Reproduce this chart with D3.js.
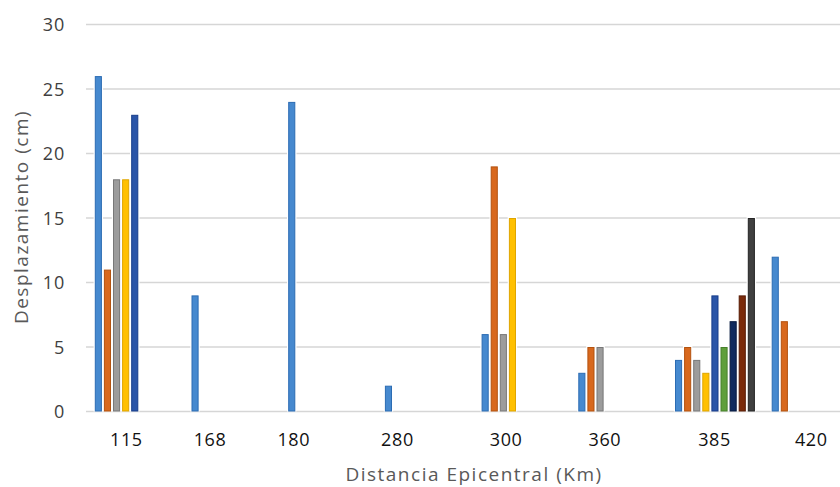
<!DOCTYPE html>
<html>
<head>
<meta charset="utf-8">
<script src="https://cdn.jsdelivr.net/npm/d3@7"></script>
<style>
  html, body { margin: 0; padding: 0; background: #fff; }
  svg { display: block; font-family: "Open Sans", "DejaVu Sans", sans-serif; }
</style>
</head>
<body>
<svg id="chart" width="840" height="487"></svg>
<script>
// Distancia epicentral (km) por estación
const categories = ["115", "168", "180", "280", "300", "360", "385", "420"];

// Desplazamiento (cm) de cada serie en cada distancia (null = sin dato)
const serie1 = [26, 9, 24, 2, 6, 3, 4, 12];
const serie2 = [11, null, null, null, 19, 5, 5, 7];
const serie3 = [18, null, null, null, 6, 5, 4, null];
const serie4 = [18, null, null, null, 15, null, 3, null];
const serie5 = [23, null, null, null, null, null, 9, null];
const serie6 = [null, null, null, null, null, null, 5, null];
const serie7 = [null, null, null, null, null, null, 7, null];
const serie8 = [null, null, null, null, null, null, 9, null];
const serie9 = [null, null, null, null, null, null, 15, null];

const yTicks = [0, 5, 10, 15, 20, 25, 30];

const series = [serie1, serie2, serie3, serie4, serie5, serie6, serie7, serie8, serie9];
const fills   = ["#4689cf", "#d8681d", "#9c9c9c", "#ffc000", "#2a55a8", "#5f9f3b", "#0f2a5e", "#7a2a0a", "#404040"];
const borders = ["#2c6cb3", "#b3520f", "#787878", "#dfa500", "#173d8a", "#47802c", "#06193f", "#571c05", "#252525"];

// Small horizontal nudges applied to the category labels
const labelNudge = [-8, -21, -34, -27, -15, -13, 0, 0];

const svg = d3.select("#chart");
const left = 86, bandW = 96.7;
const y = d3.scaleLinear().domain([0, 30]).range([411.5, 24.5]);
const x = d3.scaleBand().domain(categories).range([left, left + bandW * categories.length]).paddingInner(0).paddingOuter(0);
const xs = d3.scaleBand().domain(d3.range(series.length)).range([7.8, 7.8 + 9.1 * series.length]).padding(0);

// Gridlines
svg.append("g")
  .selectAll("line")
  .data(yTicks)
  .join("line")
  .attr("x1", left).attr("x2", 840)
  .attr("y1", d => y(d)).attr("y2", d => y(d))
  .attr("stroke", "#d6d6d6").attr("stroke-width", 1.5);

// Y tick labels
svg.append("g")
  .selectAll("text")
  .data(yTicks)
  .join("text")
  .attr("x", 65).attr("y", d => y(d) + 6.5)
  .attr("text-anchor", "end")
  .attr("font-size", 18)
  .attr("letter-spacing", 0.8)
  .attr("fill", "#404040")
  .text(d => d);

// Bars
const bars = [];
series.forEach((vals, si) => {
  vals.forEach((v, ci) => {
    if (v !== null) bars.push({ cat: categories[ci], s: si, v });
  });
});

const barW = 7.1;
const g = svg.append("g");
g.selectAll("rect.halo")
  .data(bars)
  .join("rect")
  .attr("class", "halo")
  .attr("x", d => x(d.cat) + xs(d.s) + (xs.bandwidth() - barW) / 2 - 1.2)
  .attr("y", d => y(d.v) - 1.2)
  .attr("width", barW + 2.4)
  .attr("height", d => y(0) - y(d.v) + 1.2)
  .attr("fill", "#fff");
g.selectAll("rect.bar")
  .data(bars)
  .join("rect")
  .attr("class", "bar")
  .attr("x", d => x(d.cat) + xs(d.s) + (xs.bandwidth() - barW) / 2 + 0.5)
  .attr("y", d => y(d.v) + 0.5)
  .attr("width", barW - 1)
  .attr("height", d => y(0) - y(d.v) - 1)
  .attr("fill", d => fills[d.s])
  .attr("stroke", d => borders[d.s])
  .attr("stroke-width", 1);

// Category axis labels
const xAxis = d3.axisBottom(x).tickSize(0).tickPadding(0);
const ax = svg.append("g").attr("transform", "translate(0,430)").call(xAxis);
ax.select(".domain").remove();
ax.selectAll(".tick text")
  .attr("font-family", "'Open Sans', sans-serif")
  .attr("font-size", 18)
  .attr("font-weight", 500)
  .attr("letter-spacing", 0.6)
  .attr("fill", "#111")
  .attr("dy", 0)
  .attr("y", 16)
  .attr("x", (d, i) => labelNudge[i]);

// Axis titles
svg.append("text")
  .attr("x", 474).attr("y", 481)
  .attr("text-anchor", "middle")
  .attr("font-size", 19)
  .attr("letter-spacing", 1.5)
  .attr("fill", "#595959")
  .text("Distancia Epicentral (Km)");

svg.append("text")
  .attr("transform", "translate(28,217) rotate(-90)")
  .attr("text-anchor", "middle")
  .attr("font-size", 19)
  .attr("letter-spacing", 1.5)
  .attr("fill", "#595959")
  .text("Desplazamiento (cm)");
</script>
</body>
</html>
